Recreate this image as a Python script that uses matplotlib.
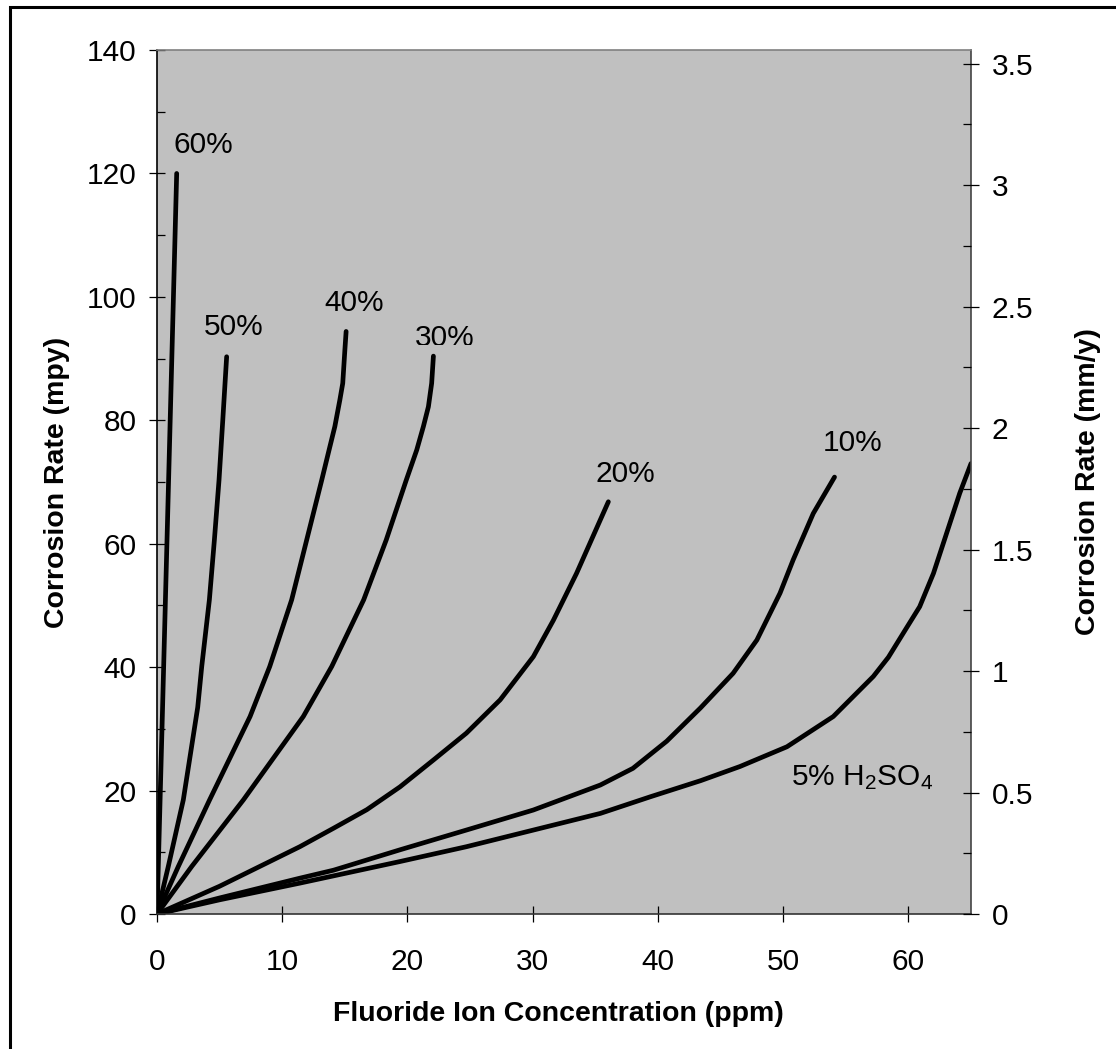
import matplotlib
matplotlib.use('Agg')
import matplotlib.pyplot as plt
from matplotlib.patches import Rectangle
from matplotlib.ticker import MultipleLocator, FuncFormatter

plt.rcParams['font.family'] = ['Liberation Sans', 'DejaVu Sans']
plt.rcParams['mathtext.default'] = 'regular'

# Curves: fluoride (ppm) vs corrosion rate (mpy)
c60_x = [0, 0.45, 1.09, 1.57]
c60_y = [0, 34, 83, 120]

c50_x = [0, 0.9, 2.1, 3.25, 3.57, 4.18, 4.58, 4.95, 5.25, 5.56]
c50_y = [0, 7.7, 18.5, 33.5, 40.1, 50.9, 60.6, 70.3, 80, 90.3]

c40_x = [0, 1.7, 4.2, 7.43, 9.0, 10.75, 11.95, 13.15, 13.8, 14.2, 14.6, 14.83, 15.0, 15.1]
c40_y = [0, 7.7, 18.5, 32.0, 40.1, 50.9, 60.6, 70.3, 75.7, 79, 83.3, 86, 91.4, 94.4]

c30_x = [0, 2.77, 6.9, 11.68, 13.95, 16.5, 18.3, 19.9, 20.74, 21.27, 21.67, 21.93, 22.07]
c30_y = [0, 7.7, 18.5, 32.0, 40.1, 50.9, 60.6, 70.3, 75.2, 79, 82.2, 86, 90.4]

c20_x = [0, 5, 11.4, 14.1, 16.75, 19.4, 22.1, 24.7, 27.4, 30.05, 31.65, 33.5, 36.04]
c20_y = [0, 4.5, 10.9, 13.9, 16.9, 20.6, 25.0, 29.3, 34.7, 41.7, 47.6, 55.2, 66.8]

c10_x = [0, 5, 11.4, 14.1, 19.4, 24.7, 30.05, 35.4, 38.0, 40.7, 43.4, 46.0,
         47.9, 49.75, 50.8, 52.4, 54.1]
c10_y = [0, 2.6, 5.8, 7.1, 10.4, 13.6, 16.85, 20.9, 23.6, 28.0, 33.4, 39.0,
         44.4, 52.0, 57.4, 64.9, 70.8]

c5_x = [0, 5, 11.4, 19.4, 24.7, 30.05, 35.4, 39.4, 43.4, 46.55, 50.3, 54.0,
        57.2, 58.4, 59.8, 60.9, 62.0, 63.05, 64.1, 65.0]
c5_y = [0, 2.3, 5.0, 8.5, 10.9, 13.6, 16.3, 19.0, 21.6, 23.9, 27.1, 32.0,
        38.5, 41.6, 46.2, 49.8, 55.2, 61.7, 68.2, 73.0]

curves = [(c60_x, c60_y), (c50_x, c50_y), (c40_x, c40_y), (c30_x, c30_y),
          (c20_x, c20_y), (c10_x, c10_y), (c5_x, c5_y)]

labels = ['60%', '50%', '40%', '30%', '20%', '10%', '5% H$_2$SO$_4$']
label_x = [1.3, 3.75, 13.34, 20.6, 34.98, 53.15, 50.6]
label_y = [123.3, 93.9, 97.7, 92.0, 70.05, 75.03, 20.9]

fig = plt.figure(figsize=(11.16, 10.49), dpi=100)
ax = fig.add_axes([0.1407, 0.1287, 0.7294, 0.8236])
ax.set_facecolor('#C0C0C0')

for xs, ys in curves:
    ax.plot(xs, ys, color='black', lw=3.4, solid_capstyle='round',
            solid_joinstyle='round')

for i, lab in enumerate(labels):
    t = ax.text(label_x[i], label_y[i], lab, fontsize=21.5, ha='left', va='baseline')
    if lab == '30%':
        # bottom of this label is cut off in the original
        t.set_clip_on(True)
        t.set_clip_path(Rectangle((0, 92.2), 65, 50, transform=ax.transData))

ax.set_xlim(0, 65)
ax.set_ylim(0, 140)
ax.xaxis.set_major_locator(MultipleLocator(10))
ax.yaxis.set_major_locator(MultipleLocator(20))
ax.yaxis.set_minor_locator(MultipleLocator(10))
ax.tick_params(axis='x', which='major', direction='inout', length=11.5, width=0.9,
               labelsize=21.5, pad=19)
ax.tick_params(axis='y', which='major', direction='inout', length=11.5, width=0.9,
               labelsize=21.5, pad=9)
ax.tick_params(axis='y', which='minor', direction='in', length=5.8, width=0.9)

ax.spines['left'].set_color('black')
ax.spines['bottom'].set_color('#333333')
ax.spines['top'].set_color('#808080')
ax.spines['right'].set_color('#444444')
for s in ax.spines.values():
    s.set_linewidth(1.2)

ax2 = ax.twinx()
ax2.set_ylim(0, 140 * 0.0254)
ax2.yaxis.set_major_locator(MultipleLocator(0.5))
ax2.yaxis.set_minor_locator(MultipleLocator(0.25))
ax2.yaxis.set_major_formatter(FuncFormatter(lambda v, p: '%g' % v))
ax2.tick_params(axis='y', which='major', direction='inout', length=11.5, width=0.9,
                labelsize=21.5, pad=9)
ax2.tick_params(axis='y', which='minor', direction='in', length=5.8, width=0.9)
for s in ax2.spines.values():
    s.set_visible(False)

ax.text(-0.123, 0.5, 'Corrosion Rate (mpy)', transform=ax.transAxes, rotation=90,
        ha='center', va='center', fontsize=20.5, fontweight='bold')
ax.text(1.144, 0.5, 'Corrosion Rate (mm/y)', transform=ax.transAxes, rotation=90,
        ha='center', va='center', fontsize=20.5, fontweight='bold')
ax.text(0.493, -0.116, 'Fluoride Ion Concentration (ppm)', transform=ax.transAxes,
        ha='center', va='center', fontsize=20.5, fontweight='bold')

# outer frame around the whole figure
fig.add_artist(Rectangle((9.5 / 1116, -0.1), 1.2, (1049 - 6.5) / 1049 + 0.1,
                         transform=fig.transFigure, fill=False, lw=2.2,
                         edgecolor='black'))

fig.savefig('out.png', dpi=100)
